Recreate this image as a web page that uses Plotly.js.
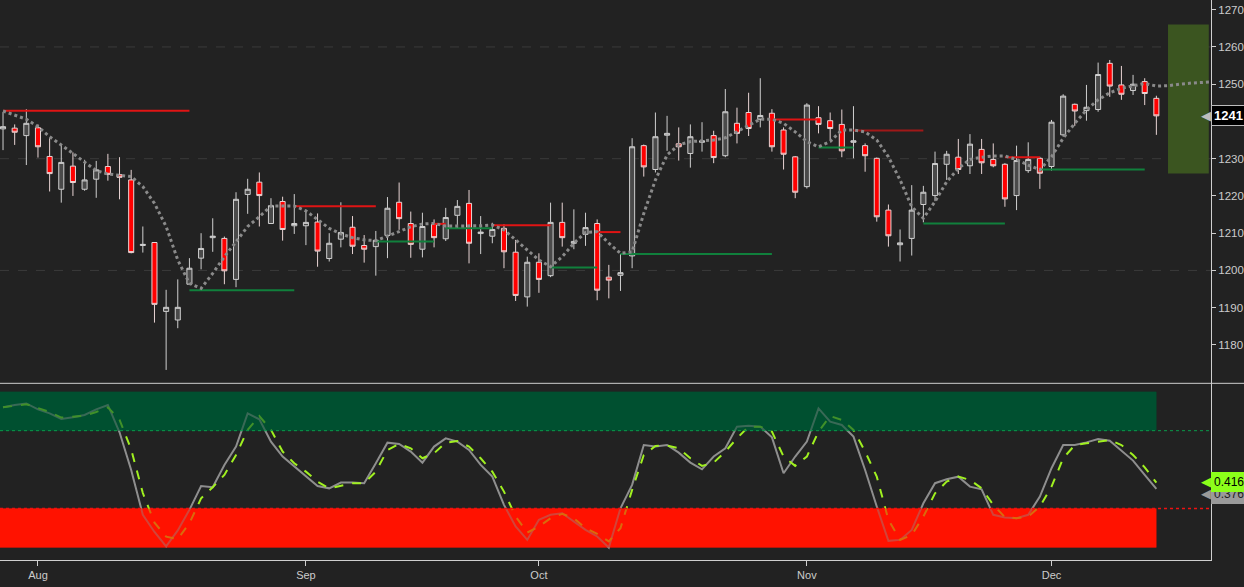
<!DOCTYPE html>
<html>
<head>
<meta charset="utf-8">
<script src="https://cdn.plot.ly/plotly-3.0.1.min.js"></script>
<style>
  html, body { margin: 0; padding: 0; background: #222222; }
  #chart { width: 1244px; height: 587px; }
</style>
</head>
<body>
<div id="chart"></div>
<script>
// daily bars, index 0..99 (Aug .. mid Dec)
const opens = [1238.0,1238.2,1236.2,1238.3,1230.6,1221.8,1228.0,1221.8,1224.5,1227.9,1225.7,1224.3,1206.7,1207.5,1189.0,1186.7,1196.3,1203.3,1208.8,1208.6,
  1197.6,1220.4,1223.7,1212.6,1218.5,1212.0,1212.0,1213.0,1203.2,1208.4,1211.6,1206.7,1206.4,1209.4,1218.3,1212.6,1205.7,1212.4,1208.5,1214.8,
  1218.0,1209.9,1209.2,1211.3,1204.9,1192.9,1202.2,1198.6,1212.9,1207.3,1209.7,1212.6,1198.2,1198.7,1203.9,1233.5,1227.1,1236.3,1234.0,1231.4,
  1234.4,1236.2,1230.8,1239.5,1242.4,1240.6,1242.2,1237.7,1230.5,1222.5,1241.0,1240.2,1239.2,1234.4,1233.5,1230.1,1216.2,1206.9,1208.6,1217.7,
  1220.1,1228.5,1230.4,1228.1,1232.5,1229.8,1228.5,1220.1,1226.8,1230.1,1227.9,1236.4,1244.6,1242.9,1243.2,1255.6,1249.8,1248.3,1250.7,1246.2];
const highs = [1242.5,1239.2,1243.3,1239.2,1235.5,1233.9,1231.7,1229.7,1229.4,1231.3,1230.4,1227.0,1211.8,1207.6,1194.8,1197.6,1203.3,1210.0,1214.0,1209.1,
  1221.0,1224.6,1226.3,1219.4,1219.8,1220.5,1215.7,1215.3,1210.0,1218.3,1214.6,1209.5,1210.6,1219.7,1223.6,1215.8,1215.5,1213.7,1216.8,1218.9,
  1221.6,1214.6,1212.8,1212.4,1208.2,1203.7,1204.6,1218.2,1218.2,1216.4,1215.5,1213.7,1201.5,1204.4,1235.5,1233.8,1242.4,1241.5,1238.4,1239.2,
  1239.8,1237.5,1248.7,1243.7,1247.7,1251.6,1243.3,1238.4,1230.7,1244.9,1244.1,1242.4,1243.2,1244.1,1234.1,1230.3,1217.7,1211.0,1222.9,1222.7,
  1231.9,1232.1,1235.3,1236.6,1235.3,1234.1,1228.8,1233.5,1234.4,1230.5,1240.4,1247.3,1244.8,1249.8,1255.8,1256.5,1254.9,1252.5,1251.6,1246.9];
const lows = [1232.3,1233.7,1228.3,1230.3,1221.2,1218.2,1220.0,1221.4,1219.5,1224.1,1219.1,1204.6,1204.8,1186.0,1173.3,1184.5,1196.3,1200.3,1205.0,1196.3,
  1195.5,1215.2,1211.8,1212.6,1208.0,1209.8,1206.8,1201.0,1202.4,1206.2,1204.4,1202.1,1198.6,1203.3,1210.9,1203.4,1203.5,1206.2,1207.9,1211.3,
  1201.9,1204.4,1207.3,1200.6,1191.8,1190.3,1194.0,1198.2,1206.4,1205.7,1206.6,1192.0,1192.5,1194.5,1200.6,1225.2,1226.3,1232.1,1229.5,1227.6,
  1231.9,1228.8,1230.4,1234.1,1236.1,1238.4,1231.9,1227.1,1219.4,1222.0,1236.8,1235.0,1230.4,1230.1,1226.5,1213.1,1206.4,1202.4,1204.0,1212.9,
  1218.6,1224.3,1225.9,1225.9,1225.9,1227.7,1217.1,1216.2,1226.2,1221.9,1226.8,1235.9,1238.8,1240.2,1242.6,1246.6,1245.8,1247.1,1244.4,1236.4];
const closes = [1238.6,1237.1,1239.5,1233.2,1226.0,1229.0,1223.6,1224.3,1227.0,1225.8,1225.0,1204.8,1207.0,1190.9,1190.1,1190.1,1200.6,1205.9,1209.2,1199.9,
  1219.1,1221.8,1220.1,1217.4,1211.0,1212.6,1212.9,1205.2,1207.3,1210.2,1206.5,1205.7,1208.1,1216.7,1213.9,1207.0,1211.8,1208.8,1214.2,1217.2,
  1207.3,1210.3,1211.0,1205.0,1193.3,1202.2,1197.6,1212.9,1208.8,1207.8,1211.5,1194.7,1197.4,1199.4,1233.2,1227.8,1235.9,1236.8,1233.2,1235.9,
  1234.8,1230.3,1242.6,1236.8,1238.1,1241.6,1233.2,1231.2,1221.0,1244.4,1239.2,1238.1,1232.1,1234.8,1230.8,1214.4,1209.3,1207.4,1216.2,1221.0,
  1228.7,1231.2,1227.1,1233.9,1228.9,1228.1,1219.2,1229.5,1229.8,1226.1,1239.8,1246.8,1242.8,1243.8,1252.6,1249.5,1247.3,1250.0,1247.5,1241.5];

// dotted trailing average (last points project past the final bar)
const trailX = [0,1,2,3,4,5,6,7,8,9,10,11,12,13,14,15,16,17,18,19,20,21,22,23,24,25,26,27,28,29,30,31,32,33,34,35,36,37,38,39,
  40,41,42,43,44,45,46,47,48,49,50,51,52,53,54,55,56,57,58,59,60,61,62,63,64,65,66,67,68,69,70,71,72,73,74,75,76,77,78,79,
  80,81,82,83,84,85,86,87,88,89,90,91,92,93,94,95,96,97,98,99,100,101,102,103.7];
const trailY = [1242.8,1241.7,1240.6,1238.6,1235.9,1233.7,1231.4,1229.2,1226.8,1225.9,1225.6,1225.2,1222.5,1218.0,1211.8,1202.8,1196.5,1195.2,1199.2,1203.7,
  1207.7,1211.8,1214.4,1217.3,1217.3,1217.3,1216.0,1213.7,1211.3,1209.8,1208.8,1208.2,1208.0,1209.2,1210.4,1211.7,1212.5,1212.6,1211.9,1211.9,
  1211.9,1212.0,1212.2,1210.9,1208.2,1205.5,1202.8,1201.0,1203.7,1207.3,1210.2,1210.4,1207.3,1204.6,1205.0,1215.3,1224.3,1231.0,1233.7,1234.6,
  1234.7,1235.0,1235.6,1237.2,1239.0,1240.6,1240.6,1239.5,1237.2,1234.6,1233.2,1234.6,1237.7,1237.7,1237.2,1235.0,1230.5,1224.3,1217.1,1214.0,
  1218.5,1223.8,1227.4,1229.8,1230.4,1230.7,1230.7,1229.8,1228.3,1227.0,1230.5,1235.5,1239.5,1243.1,1245.8,1247.7,1248.9,1249.5,1250.2,1249.5,
  1249.6,1250.0,1250.3,1250.6];

// support / resistance steps
const stepStart = [0,16,25,32,37,38,42,47,51,53,66,70,73,79,86,89];
const stepEnd   = [16,25,32,37,38,42,47,51,53,66,70,73,79,86,89,98];
const stepLevel = [1242.9,1194.7,1217.2,1207.8,1212.5,1211.3,1212.1,1200.8,1210.3,1204.4,1240.5,1233.0,1237.6,1212.6,1230.4,1227.1];
const stepColor = ["#e01414","#10803c","#e01414","#10803c","#e01414","#10803c","#e01414","#10803c","#e01414","#10803c","#e01414","#10803c","#a01818","#10803c","#e01414","#10803c"];

// projected target zone
const zoneX = [100, 103.5];
const zoneY = [1226, 1266];

// stochastic %K and %D
const stochK = [0.900,0.915,0.925,0.887,0.861,0.825,0.836,0.851,0.887,0.915,0.740,0.498,0.210,0.100,0.007,0.110,0.242,0.395,0.387,0.530,
  0.648,0.861,0.823,0.680,0.584,0.519,0.455,0.395,0.380,0.417,0.417,0.413,0.541,0.673,0.665,0.616,0.545,0.648,0.701,0.680,
  0.626,0.530,0.455,0.274,0.135,0.049,0.178,0.210,0.220,0.167,0.113,0.071,0.000,0.252,0.402,0.658,0.648,0.658,0.609,0.545,
  0.502,0.584,0.637,0.776,0.782,0.776,0.707,0.477,0.584,0.680,0.893,0.808,0.787,0.712,0.498,0.263,0.043,0.049,0.113,0.284,
  0.413,0.438,0.455,0.391,0.374,0.210,0.193,0.188,0.210,0.327,0.509,0.658,0.658,0.675,0.697,0.686,0.622,0.558,0.466,0.376];
const stochD = [0.900,0.910,0.920,0.895,0.870,0.834,0.838,0.846,0.870,0.900,0.820,0.630,0.350,0.160,0.070,0.054,0.156,0.316,0.387,0.466,
  0.594,0.755,0.844,0.755,0.616,0.541,0.487,0.423,0.380,0.395,0.413,0.413,0.487,0.626,0.665,0.637,0.573,0.605,0.673,0.684,
  0.648,0.573,0.487,0.359,0.199,0.096,0.135,0.188,0.216,0.188,0.124,0.088,0.039,0.124,0.370,0.594,0.652,0.654,0.637,0.573,
  0.524,0.545,0.616,0.701,0.776,0.776,0.744,0.584,0.524,0.584,0.744,0.844,0.819,0.755,0.616,0.455,0.178,0.049,0.081,0.199,
  0.348,0.423,0.455,0.434,0.380,0.274,0.195,0.188,0.199,0.263,0.391,0.573,0.658,0.669,0.680,0.690,0.658,0.594,0.515,0.416];
const overbought = 0.75;
const oversold = 0.25;

const monthStarts = [3, 26, 46, 69, 90];
const monthLabels = ["Aug", "Sep", "Oct", "Nov", "Dec"];
const priceTicks = [1180, 1190, 1200, 1210, 1220, 1230, 1240, 1250, 1260, 1270];
const gridLevels = [1200, 1230, 1260];

const bars = opens.map((_, i) => i);
const lastBar = bars[bars.length - 1];
const split = 0.3155;
const xRange = [-0.26, 103.69];
const plotW = 1211;
const px = 1 / plotW; // one pixel in paper units
const bandEnd = (lastBar - xRange[0]) / (xRange[1] - xRange[0]);

const traces = [];
traces.push({
  type: "candlestick", x: bars, open: opens, high: highs, low: lows, close: closes,
  xaxis: "x", yaxis: "y", hoverinfo: "skip",
  increasing: { line: { color: "#cfcfcf", width: 1 }, fillcolor: "#4a4a4a" },
  decreasing: { line: { color: "#e8d4d4", width: 1 }, fillcolor: "#ff0000" },
});
stepStart.forEach((s, i) => {
  traces.push({
    type: "scatter", mode: "lines", x: [s, stepEnd[i]], y: [stepLevel[i], stepLevel[i]],
    xaxis: "x", yaxis: "y", line: { color: stepColor[i], width: 2 }, hoverinfo: "skip",
  });
});
traces.push({
  type: "scatter", mode: "lines", x: trailX, y: trailY, xaxis: "x", yaxis: "y",
  line: { color: "#8a8a8a", width: 3, dash: "dot" }, hoverinfo: "skip",
});
traces.push({
  type: "scatter", mode: "lines", x: bars, y: stochK, xaxis: "x", yaxis: "y2",
  line: { color: "#8e8e8e", width: 2 }, hoverinfo: "skip",
});
traces.push({
  type: "scatter", mode: "lines", x: bars, y: stochD, xaxis: "x", yaxis: "y2",
  line: { color: "#a0f020", width: 2, dash: "dash" }, hoverinfo: "skip",
});

const shapes = [];
gridLevels.forEach((g) => {
  shapes.push({ type: "line", xref: "paper", yref: "y", x0: 0, x1: 1, y0: g, y1: g, layer: "below",
    line: { color: "#3a3a3a", width: 1, dash: "dash" } });
});
shapes.push({ type: "rect", xref: "x", yref: "y", x0: zoneX[0], x1: zoneX[1], y0: zoneY[0], y1: zoneY[1],
  fillcolor: "#3b5520", line: { width: 0 }, layer: "below" });
// oscillator zones: solid underneath, tinted veil over the lines
const zones = [
  { y0: overbought, y1: 1.0, color: "rgb(0,80,48)", veil: 0.6 },
  { y0: 0.0, y1: oversold, color: "rgb(255,18,0)", veil: 0.6 },
];
zones.forEach((z) => {
  shapes.push({ type: "rect", xref: "paper", yref: "y2", x0: 0, x1: bandEnd, y0: z.y0, y1: z.y1,
    fillcolor: z.color, line: { width: 0 }, layer: "below" });
  shapes.push({ type: "rect", xref: "paper", yref: "y2", x0: 0, x1: bandEnd, y0: z.y0, y1: z.y1,
    fillcolor: z.color, opacity: z.veil, line: { width: 0 }, layer: "above" });
});
shapes.push({ type: "line", xref: "paper", yref: "y2", x0: 0, x1: 1, y0: overbought, y1: overbought,
  line: { color: "#0a9a4a", width: 1, dash: "dot" } });
shapes.push({ type: "line", xref: "paper", yref: "y2", x0: 0, x1: 1, y0: oversold, y1: oversold,
  line: { color: "#ee1111", width: 1.5, dash: "dot" } });
// panel separator
shapes.push({ type: "line", xref: "paper", yref: "paper", x0: 0, x1: 1.03, y0: split, y1: split,
  line: { color: "#cfcfcf", width: 1 } });

const lastClose = closes[closes.length - 1];
const lastK = stochK[stochK.length - 1];
const lastD = stochD[stochD.length - 1];

// value tags on the right axis, each with a small pointer (shift in pixels)
const tags = [
  { yref: "y2", y: lastK, shift: -5, text: lastK.toFixed(3), bg: "#9a9a9a", fg: "#222222", border: "#9a9a9a", size: 12, bold: false },
  { yref: "y2", y: lastD, shift: 1, text: lastD.toFixed(3), bg: "#8cff1a", fg: "#000000", border: "#8cff1a", size: 12, bold: false },
  { yref: "y", y: lastClose, shift: 0, text: String(Math.floor(lastClose)), bg: "#000000", fg: "#ffffff", border: "#bdbdbd", size: 13, bold: true },
];
const annotations = [];
tags.forEach((t) => {
  annotations.push({ xref: "paper", yref: t.yref, x: 1, y: t.y, xanchor: "left", yshift: t.shift, showarrow: false,
    text: t.bold ? "<b>" + t.text + "</b>" : t.text, bgcolor: t.bg, bordercolor: t.border, borderpad: 2,
    font: { family: "Liberation Sans, Arial", size: t.size, color: t.fg } });
  // pointer drawn as a tiny arrowless annotation triangle
  annotations.push({ xref: "paper", yref: t.yref, x: 1, y: t.y, xanchor: "right", yshift: t.shift, xshift: 2,
    showarrow: false, text: "\u25C0", font: { family: "DejaVu Sans", size: 13, color: t.bg === "#000000" ? "#bdbdbd" : t.bg } });
});

const layout = {
  width: 1244, height: 587,
  paper_bgcolor: "#222222", plot_bgcolor: "#222222",
  margin: { l: 0, r: 33, t: 0, b: 27 },
  showlegend: false,
  boxgap: 0.38,
  font: { family: "Liberation Sans, Arial", color: "#cccccc", size: 11 },
  xaxis: {
    range: xRange, anchor: "y2", tickvals: monthStarts, ticktext: monthLabels,
    showgrid: false, zeroline: false, showline: true, linecolor: "#cfcfcf", linewidth: 1,
    ticks: "outside", ticklen: 5, tickcolor: "#cfcfcf",
    tickfont: { family: "Liberation Sans, Arial", size: 11, color: "#cccccc" },
    rangeslider: { visible: false },
  },
  yaxis: {
    domain: [split, 1], side: "right", anchor: "x", range: [1169.7, 1272.6],
    tickvals: priceTicks, showgrid: false, zeroline: false,
    showline: true, linecolor: "#cfcfcf", ticks: "outside", ticklen: 4, tickcolor: "#cfcfcf",
    tickfont: { family: "Liberation Sans, Arial", size: 11.5, color: "#cccccc" },
  },
  yaxis2: {
    domain: [0, split], side: "right", anchor: "x", range: [-0.08, 1.054],
    showgrid: false, zeroline: false, showticklabels: false,
    showline: true, linecolor: "#cfcfcf",
  },
  shapes: shapes,
  annotations: annotations,
};

Plotly.newPlot("chart", traces, layout, { displayModeBar: false, staticPlot: true });
</script>
</body>
</html>
